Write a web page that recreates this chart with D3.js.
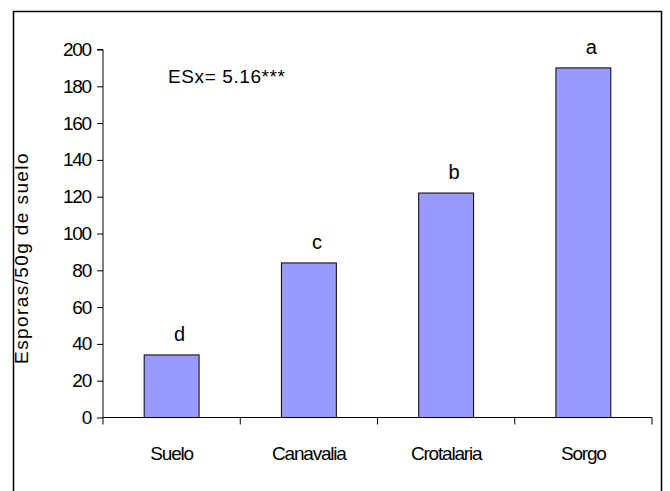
<!DOCTYPE html>
<html><head><meta charset="utf-8">
<script src="https://cdn.jsdelivr.net/npm/d3@7"></script>
<style>
body{margin:0;background:#fff;}
text{font-family:"Liberation Sans",Arial,sans-serif;fill:#000;}
</style></head>
<body><svg id="c" width="670" height="491"></svg>
<script>
const categories = ["Suelo","Canavalia","Crotalaria","Sorgo"];
const values = [34, 84, 122, 190];
const letters = ["d","c","b","a"];
const yTicks = [0,20,40,60,80,100,120,140,160,180,200];
const annotation = "ESx= 5.16***";
const yLabel = "Esporas/50g de suelo";

const svg = d3.select("#c");
// outer frame
svg.append("rect").attr("x",13.5).attr("y",11.5).attr("width",648).attr("height",485)
  .attr("fill","none").attr("stroke","#000").attr("stroke-width",1.5);

const pL=103, pR=652, pT=49.5, pB=417.5;
const x = d3.scaleBand().domain(categories).range([pL,pR]).paddingInner(0).paddingOuter(0);
const y = d3.scaleLinear().domain([0,200]).range([pB,pT]);
const bw = x.bandwidth()*0.4;

// bars
svg.selectAll("rect.bar").data(values).enter().append("rect").attr("class","bar")
  .attr("x",(d,i)=>x(categories[i])+x.bandwidth()/2-bw/2)
  .attr("y",d=>y(d)).attr("width",bw).attr("height",d=>pB-y(d))
  .attr("fill","#9999FF").attr("stroke","#000").attr("stroke-width",1);

// y axis
const ya = svg.append("g").attr("transform",`translate(${pL},0)`)
  .call(d3.axisLeft(y).tickValues(yTicks).tickSize(6).tickPadding(6));
ya.select(".domain").attr("d",`M-6,${pT}H0V${pB}`).attr("stroke","#000");
ya.selectAll("text").style("font-size","19px").style("letter-spacing","-1.2px").attr("fill","#000")
  .style("font-family","'Liberation Sans',Arial,sans-serif");
ya.selectAll(".tick line").attr("stroke","#000");

// x axis
const boundaries = categories.map(c=>x(c)).concat([pR]);
svg.append("line").attr("x1",pL).attr("x2",pR).attr("y1",pB).attr("y2",pB).attr("stroke","#000");
svg.selectAll("line.xt").data(boundaries).enter().append("line").attr("class","xt")
  .attr("x1",d=>d).attr("x2",d=>d).attr("y1",pB).attr("y2",pB+7).attr("stroke","#000");
svg.selectAll("text.xl").data(categories).enter().append("text").attr("class","xl")
  .attr("x",d=>x(d)+x.bandwidth()/2).attr("y",460).attr("text-anchor","middle")
  .style("font-size","19px").style("letter-spacing","-1.2px").text(d=>d);

// letters
svg.selectAll("text.lt").data(values).enter().append("text").attr("class","lt")
  .attr("x",(d,i)=>x(categories[i])+x.bandwidth()/2+8).attr("y",d=>y(d)-14)
  .attr("text-anchor","middle").style("font-size","20px").text((d,i)=>letters[i]);

// annotation
svg.append("text").attr("x",168).attr("y",83).style("font-size","19px").style("letter-spacing","0.6px").text(annotation);

// y label
svg.append("text").attr("transform","translate(28,258) rotate(-90)").attr("text-anchor","middle")
  .style("font-size","19px").style("letter-spacing","1.4px").text(yLabel);
</script></body></html>
